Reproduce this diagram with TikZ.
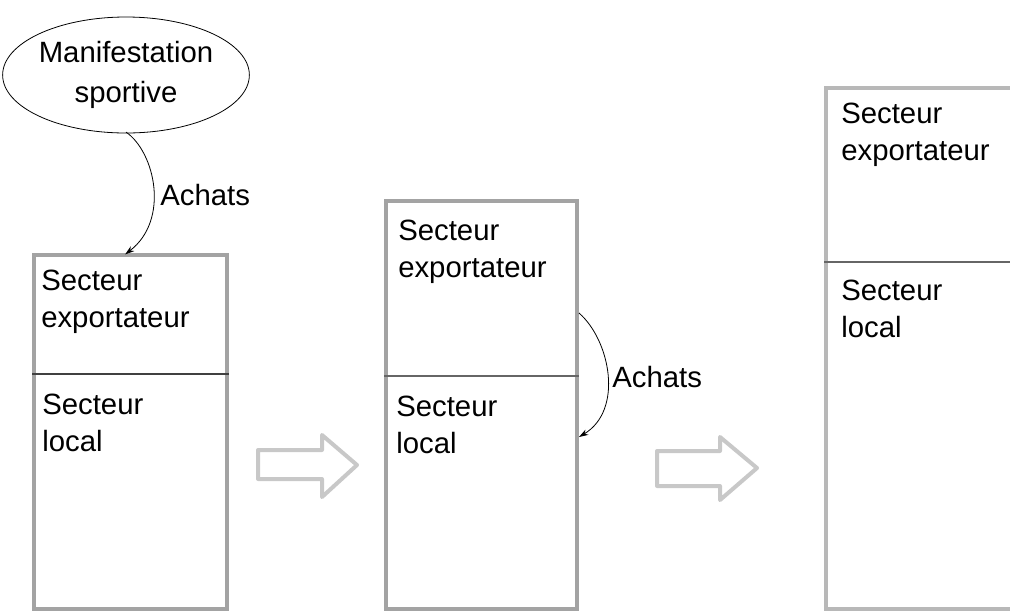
\documentclass[tikz,border=0pt]{standalone}
\usepackage{fontspec}
\setmainfont{Liberation Sans}
\usetikzlibrary{shapes.geometric,arrows.meta,fit,calc}
\definecolor{boxgray}{HTML}{A3A3A3}
\definecolor{boxgrayl}{HTML}{B8B8B8}
\definecolor{arrgray}{HTML}{C8C8C8}
\definecolor{divgray}{HTML}{404040}
\begin{document}
\begin{tikzpicture}[x=0.75pt,y=-0.75pt,
  every node/.style={font=\fontsize{22}{27.5}\selectfont},
  sbox/.style={draw=boxgray,line width=3pt,inner sep=0pt,rectangle},
  lbl/.style={anchor=base west,inner sep=0pt,align=left},
  divline/.style={draw=divgray,line width=0.9pt},
  conn/.style={draw=black,line width=0.6pt,-{Stealth[length=7pt,width=4.5pt]}},
  barrow/.style={draw=arrgray,line width=3pt,line join=round}]
\useasboundingbox (0,0) rectangle (1010,612);
% ellipse
\node[draw,ellipse,line width=0.6pt,minimum width=177pt,minimum height=87pt,inner sep=0pt,align=center,font=\fontsize{22}{30}\selectfont] (ms) at (126,75) {Manifestation\\sportive};
% boxes
\node[sbox,fit={(34,255) (227,609)}] (b1) {};
\node[sbox,fit={(386,201) (577,609)}] (b2) {};
\node[sbox,draw=boxgrayl,fit={(826,88) (1030,609)}] (b3) {};
% dividers
\draw[divline] (b1.west |- 0,374) -- (b1.east |- 0,374);
\draw[divline,draw=divgray!80] (b2.west |- 0,376) -- (b2.east |- 0,376);
\draw[divline,draw=divgray!80] (b3.west |- 0,262) -- (b3.east |- 0,262);
% texts (anchor = baseline of last line)
\node[lbl] (t1a) at (41,327) {Secteur\\exportateur};
\node[lbl] (t1b) at (42,451) {Secteur\\local};
\node[lbl] (t2a) at (398,277) {Secteur\\exportateur};
\node[lbl] (t2b) at (396,453) {Secteur\\local};
\node[lbl] (t3a) at (841,160) {Secteur\\exportateur};
\node[lbl] (t3b) at (841,337) {Secteur\\local};
% connectors
\coordinate (s1) at ([yshift=1pt]ms.south);
\coordinate (e1) at ([xshift=-4pt,yshift=-1pt]b1.north);
\draw[conn] (s1) .. controls (155,152) and (170,220) .. (e1);
\node[lbl] (a1) at (160,205) {Achats};
\coordinate (s2) at (b2.east |- 0,313);
\coordinate (e2) at (b2.east |- 0,437);
\draw[conn] (s2) .. controls (610,340) and (624,410) .. (e2);
\node[lbl] (a2) at (612,387) {Achats};
% block arrows
\draw[barrow] (258,450) -- (322,450) -- (322,435) -- (357,465) -- (322,497) -- (322,479) -- (258,479) -- cycle;
\draw[barrow] (657,451) -- (720,451) -- (720,437) -- (757,468) -- (720,500) -- (720,486) -- (657,486) -- cycle;
\end{tikzpicture}
\end{document}
